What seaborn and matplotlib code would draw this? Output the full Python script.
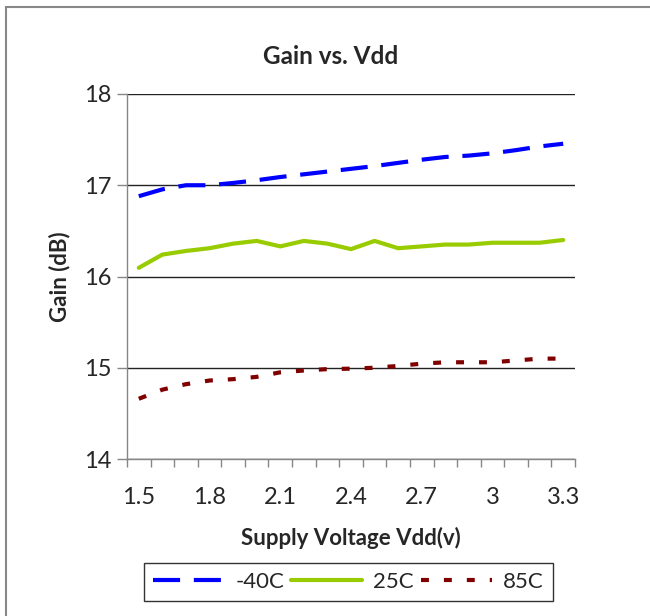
import pandas as pd
import seaborn as sns
import matplotlib.pyplot as plt
from matplotlib.patches import Rectangle
from matplotlib.ticker import FixedLocator

# data
vdd = [1.5, 1.6, 1.7, 1.8, 1.9, 2.0, 2.1, 2.2, 2.3, 2.4,
       2.5, 2.6, 2.7, 2.8, 2.9, 3.0, 3.1, 3.2, 3.3]
gain_m40 = [16.88, 16.955, 17.0, 17.0, 17.025, 17.055, 17.09, 17.12, 17.15, 17.18,
            17.21, 17.245, 17.28, 17.31, 17.325, 17.35, 17.385, 17.425, 17.455]
gain_25 = [16.095, 16.24, 16.28, 16.31, 16.36, 16.39, 16.33, 16.39, 16.36, 16.30,
           16.39, 16.31, 16.33, 16.35, 16.35, 16.37, 16.37, 16.37, 16.40]
gain_85 = [14.66, 14.76, 14.82, 14.86, 14.875, 14.9, 14.95, 14.97, 14.985, 14.99,
           15.0, 15.02, 15.045, 15.06, 15.06, 15.06, 15.08, 15.1, 15.1]
series = ['-40C', '25C', '85C']
xticks = [1.5, 1.8, 2.1, 2.4, 2.7, 3.0, 3.3]
xtick_labels = ['1.5', '1.8', '2.1', '2.4', '2.7', '3', '3.3']

df = pd.DataFrame({'vdd': vdd, '-40C': gain_m40, '25C': gain_25, '85C': gain_85})
df_long = df.melt(id_vars='vdd', value_vars=series, var_name='temp', value_name='gain')

sns.set_style('white')
plt.rcParams['font.family'] = ['Lato', 'DejaVu Sans']

fig = plt.figure(figsize=(6.5, 6.16), dpi=100)
ax = fig.add_axes([127 / 650, 1 - 459 / 616, 448 / 650, 365 / 616])

palette = {'-40C': '#0000FF', '25C': '#99CC00', '85C': '#800000'}
dashes = {'-40C': (6.5, 3.3), '25C': '', '85C': (1.9, 3.6)}
sns.lineplot(data=df_long, x='vdd', y='gain', hue='temp', style='temp',
             palette=palette, dashes=dashes, linewidth=3, ax=ax, legend=True)

ax.set_xlim(1.45, 3.35)
ax.set_ylim(14, 18)
ax.set_yticks([14, 15, 16, 17, 18])
ax.yaxis.grid(True, color='#222222', linewidth=1)
ax.set_xticks(xticks)
ax.set_xticklabels(xtick_labels)
ax.xaxis.set_minor_locator(FixedLocator([1.45 + 0.1 * i for i in range(20)]))
ax.tick_params(axis='x', which='major', length=0, labelsize=17, pad=20)
ax.tick_params(axis='x', which='minor', length=6, color='#868686', width=1, direction='out', bottom=True)
ax.tick_params(axis='y', length=7, color='#868686', width=1, labelsize=17, pad=4, left=True)

for side in ['top', 'right']:
    ax.spines[side].set_visible(False)
for side in ['left', 'bottom']:
    ax.spines[side].set_color('#868686')
    ax.spines[side].set_linewidth(1)

fig.text(331 / 650, 1 - 57 / 616, 'Gain vs. Vdd', fontsize=17.5, fontweight='bold',
         ha='center', va='center')
ax.set_xlabel('Supply Voltage Vdd(v)', fontsize=16, fontweight='bold', labelpad=14)
ax.set_ylabel('Gain (dB)', fontsize=16, fontweight='bold', labelpad=10)

handles, labels = ax.get_legend_handles_labels()
ax.legend(handles, labels, loc='center', bbox_to_anchor=(348.5 / 650, 1 - 582 / 616),
          bbox_transform=fig.transFigure, ncol=3, fontsize=16, frameon=True,
          fancybox=False, edgecolor='black', handlelength=3.2, handletextpad=0.5,
          columnspacing=0.3, borderpad=0.4)
ax.get_legend().get_frame().set_linewidth(1)

# outer chart border (only left/top visible in the reference)
fig.patches.append(Rectangle((6 / 650, -0.05), 1.2, 1 - 7 / 616 + 0.05,
                             transform=fig.transFigure, fill=False,
                             edgecolor='#888888', linewidth=1.5))

fig.savefig('out.png', dpi=100)
